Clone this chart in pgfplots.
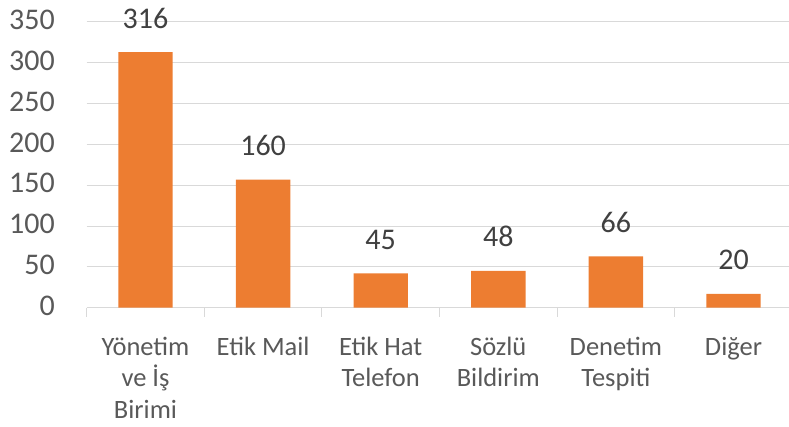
\documentclass[border=0pt]{standalone}
\usepackage{pgfplots}
\pgfplotsset{compat=1.18}
\usepackage{fontspec}
\setmainfont{Carlito}
\definecolor{barorange}{HTML}{ED7D31}
\definecolor{gridgray}{HTML}{D9D9D9}
\definecolor{ticktext}{HTML}{595959}
\definecolor{valtext}{HTML}{404040}
\begin{document}
\begin{tikzpicture}
\path[use as bounding box] (0,0) rectangle (789bp,427bp);
\begin{axis}[
  at={(86.7bp,119.3bp)}, anchor=south west,
  scale only axis,
  width=705.6bp, height=285.7bp,
  xmin=-0.5, xmax=5.5,
  ymin=0, ymax=350,
  ytick={0,50,...,350},
  xtick={0,1,2,3,4,5},
  xticklabels={{Yönetim\\ve İş\\Birimi},{Etik Mail},{Etik Hat\\Telefon},{Sözlü\\Bildirim},{Denetim\\Tespiti},{Diğer}},
  minor xtick={-0.5,0.5,1.5,2.5,3.5,4.5,5.5},
  major tick length=0pt,
  minor tick length=9bp,
  tick align=outside,
  minor x tick style={draw=gridgray, line width=1bp},
  axis x line*=bottom,
  axis y line*=left,
  x axis line style={draw=gridgray, line width=1bp, -},
  y axis line style={draw=none},
  ymajorgrids,
  grid style={draw=gridgray, line width=1bp},
  /pgf/number format/assume math mode=true,
  yticklabel style={font=\fontsize{30bp}{36bp}\selectfont, text=ticktext, anchor=east, inner sep=0pt, xshift=-31.7bp, yshift=2bp},
  xticklabel style={font=\fontsize{26.5bp}{31.5bp}\selectfont, text=ticktext, anchor=north, align=center, inner sep=0pt, yshift=-29bp},
  ybar, bar width=54.4bp,
  nodes near coords,
  point meta=explicit symbolic,
  every node near coord/.append style={font=\fontsize{30bp}{36bp}\selectfont, text=valtext, anchor=base, inner sep=0pt, yshift=24bp},
  clip=false,
]
\addplot[fill=barorange, draw=none] table[meta=label] {
x y label
0 313 316
1 157 160
2 42 45
3 45 48
4 63 66
5 17 20
};
\end{axis}
\end{tikzpicture}
\end{document}
